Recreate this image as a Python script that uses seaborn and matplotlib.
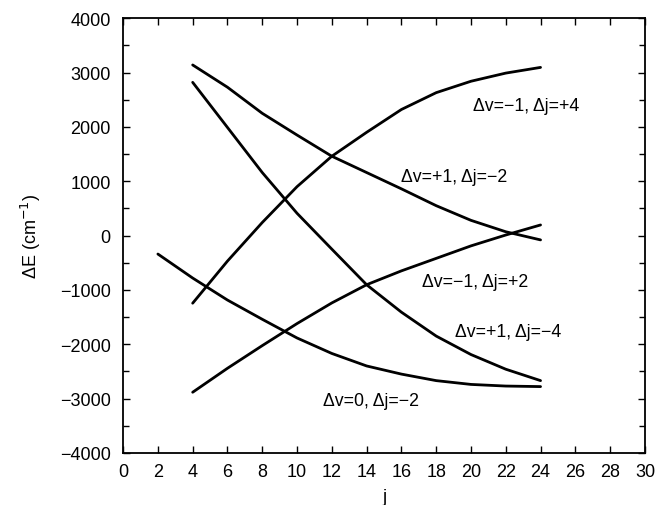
import numpy as np
import pandas as pd
import matplotlib
matplotlib.use("Agg")
import matplotlib.pyplot as plt
import seaborn as sns

# Data
j_even = [4, 6, 8, 10, 12, 14, 16, 18, 20, 22, 24]
j_e = [2, 4, 6, 8, 10, 12, 14, 16, 18, 20, 22, 24]

dvm1_dj4 = [-1245, -470, 240, 900, 1460, 1900, 2320, 2630, 2840, 2990, 3095]
dvp1_djm2 = [3140, 2730, 2250, 1850, 1460, 1160, 860, 550, 280, 70, -80]
dvp1_djm4 = [2820, 1990, 1160, 410, -250, -905, -1410, -1850, -2190, -2460, -2670]
dvm1_dj2 = [-2884, -2443, -2026, -1620, -1240, -905, -650, -420, -190, 10, 195]
dv0_djm2 = [-340, -782, -1187, -1541, -1885, -2170, -2400, -2550, -2670, -2740, -2770, -2780]

labels = ["Δv=−1, Δj=+4", "Δv=+1, Δj=−2", "Δv=+1, Δj=−4", "Δv=−1, Δj=+2", "Δv=0, Δj=−2"]
label_pos = [(20.1, 2400), (16.0, 1095), (19.1, -1760), (17.2, -840), (11.5, -3040)]

frames = []
for name, xs, ys in [(labels[0], j_even, dvm1_dj4), (labels[1], j_even, dvp1_djm2),
                     (labels[2], j_even, dvp1_djm4), (labels[3], j_even, dvm1_dj2),
                     (labels[4], j_e, dv0_djm2)]:
    frames.append(pd.DataFrame({"j": xs, "dE": ys, "series": name}))
df = pd.concat(frames, ignore_index=True)

sns.set_style("ticks")
plt.rcParams["font.family"] = ["Liberation Sans", "DejaVu Sans"]
plt.rcParams["text.color"] = "black"
plt.rcParams["axes.labelcolor"] = "black"
plt.rcParams["xtick.color"] = "black"
plt.rcParams["ytick.color"] = "black"

fig = plt.figure(figsize=(6.69, 5.06), dpi=100)
ax = fig.add_axes([0.184, 0.103, 0.78, 0.859])

sns.lineplot(data=df, x="j", y="dE", hue="series", palette=["black"] * 5,
             legend=False, linewidth=2.0, ax=ax, sort=False)

for lab, (x, y) in zip(labels, label_pos):
    ax.text(x, y, lab, fontsize=12.8, ha="left", va="center", color="black")

ax.set_xlim(0, 30)
ax.set_ylim(-4000, 4000)
ax.set_xticks(np.arange(0, 31, 2))
ax.set_yticks(np.arange(-4000, 4001, 1000))
ax.set_yticks(np.arange(-4000, 4001, 500), minor=True)
ax.tick_params(which="both", direction="in", top=True, right=True, labelsize=13,
               colors="black")
ax.tick_params(axis="y", which="major", pad=9)
ax.tick_params(axis="x", which="major", pad=7)
ax.tick_params(which="major", length=5, width=1)
ax.tick_params(which="minor", length=4, width=1)
for s in ax.spines.values():
    s.set_linewidth(1.3)
    s.set_color("black")

ax.set_xlabel("j", fontsize=13, labelpad=6)
ax.set_ylabel("ΔE (cm$^{-1}$)", fontsize=13, labelpad=12)

fig.savefig("out.png", dpi=100)
